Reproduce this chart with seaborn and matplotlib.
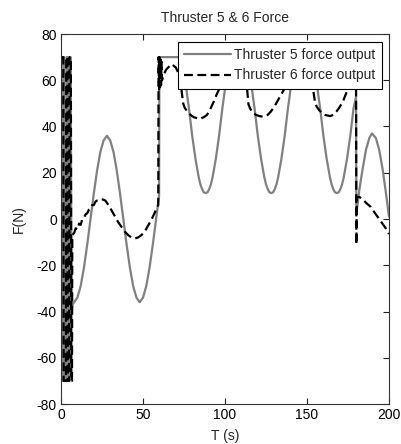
import numpy as np
import pandas as pd
import matplotlib
matplotlib.use("Agg")
import matplotlib.pyplot as plt
import seaborn as sns

# ---- data ----
t5 = [0.3, 1.2, 1.4, 2.0, 2.2, 3.3, 3.5, 4.2, 4.4, 5.3, 5.5, 5.9, 6.4, 7.0,
      8, 10, 12, 14, 16, 18, 20, 22, 24, 26, 28, 30, 32, 34, 36, 38, 40, 42, 44,
      46, 48, 50, 52, 54, 56, 58, 59.8, 60.0,
      62, 74.0, 75, 76, 77, 78, 79, 80, 81, 82, 83, 84, 85, 86, 87, 88.2,
      89.4, 90.4, 91.4, 92.4, 93.4, 94.4, 95.4, 96.4, 97.4, 98.4, 99.4, 100.4,
      101.4, 102.4,
      114.0, 115, 116, 117, 118, 119, 120, 121, 122, 123, 124, 125, 126, 127, 128.2,
      129.4, 130.4, 131.4, 132.4, 133.4, 134.4, 135.4, 136.4, 137.4, 138.4, 139.4,
      140.4, 141.4, 142.4,
      154.0, 155, 156, 157, 158, 159, 160, 161, 162, 163, 164, 165, 166, 167, 168.2,
      169.4, 170.4, 171.4, 172.4, 173.4, 174.4, 175.4, 176.4, 177.4, 178.4, 179.4,
      179.9, 180.1,
      182, 184, 186, 188, 189.6, 192, 194, 196, 198, 200]
f5 = [-70, -70, 70, 70, -70, -70, 70, 70, -70, -70, 70, 70, -40, -37,
      -36, -34, -29, -21, -11, 0, 11, 21, 29, 34, 36, 34, 29, 21, 11, 0, -11, -21, -29,
      -34, -36, -34, -29, -21, -11, 0, 10, 70,
      70, 70, 64, 59, 53, 48, 42, 36, 31, 26, 22, 18, 15, 13, 11.6, 11.2,
      11.6, 13, 15, 18, 22, 26, 31, 36, 42, 48, 53, 59, 64, 70,
      70, 64, 59, 53, 48, 42, 36, 31, 26, 22, 18, 15, 13, 11.6, 11.2,
      11.6, 13, 15, 18, 22, 26, 31, 36, 42, 48, 53, 59, 64, 70,
      70, 64, 59, 53, 48, 42, 36, 31, 26, 22, 18, 15, 13, 11.6, 11.2,
      11.6, 13, 15, 18, 22, 26, 31, 36, 42, 48, 51, 53, 2,
      13, 22, 30, 35, 37, 35, 30, 22, 12, 1]

t6 = [0.5, 1.4, 1.6, 3.0, 3.2, 3.9, 4.1, 5.0, 5.2, 6.0, 6.3, 6.7, 6.9,
      8, 9, 10, 11, 12, 13, 14, 15, 16, 17, 18, 19, 20, 21, 22, 24.8, 27, 29,
      31, 33, 35, 37, 39, 41, 43, 45, 47, 49, 51, 53, 55, 57, 58.5, 59.3,
      59.5, 59.8, 60.1, 60.4, 60.7, 61.0, 61.3, 61.6, 62.4, 64, 66, 67.5, 70, 72,
      73, 73.6, 74.5, 75.5, 77, 79, 81, 84.5, 87, 89, 91, 93, 95, 97, 99, 102,
      105, 108, 111, 112.5, 113.3, 114.3, 115.5, 117, 119, 121, 123.4, 126, 128,
      130, 132, 134, 136, 138, 141, 145, 148, 151, 152.5, 153.5, 155, 156, 157.5,
      159, 161, 164, 166, 168, 170, 172, 174, 176, 178, 179.6, 179.9, 180.1,
      180.4, 182, 184, 186, 188.6, 190, 192, 194, 196, 198, 200]
f6 = [70, 70, -70, -70, 70, 70, -70, -70, 70, 70, -70, -70, -7,
      -6, -4, -4.5, -2, -2.5, 0, 0.5, 2, 2.5, 4, 4.5, 6, 6, 7.5, 8, 8.6, 8, 6,
      3.5, 1, -1.5, -3.5, -5.5, -7, -8, -8.4, -8, -7, -5.5, -3, -0.5, 2.5, 5, 6,
      70, 56, 70, 57, 69, 58, 68, 60, 62, 64.5, 66, 67, 65.5, 62.5,
      60, 55, 50, 48, 46.5, 45, 44, 43.3, 44, 45, 47.5, 50.5, 54, 57, 60, 63,
      65.5, 66.5, 65, 62, 57.5, 49.6, 47.5, 46, 45, 44.5, 44.2, 45, 46.5,
      48.5, 51, 53.5, 56, 59, 62.5, 65.5, 66.5, 65, 62, 57, 50, 48.5, 47,
      46, 45, 44.5, 45, 46.5, 48.5, 51, 54.6, 56.5, 59, 61, 62, -11,
      9.5, 9.5, 8.5, 7, 5.4, 4, 2, 0, -2, -4, -6.5]

labels = ["Thruster 5 force output", "Thruster 6 force output"]

df5 = pd.DataFrame({"T": t5, "F": f5})
df6 = pd.DataFrame({"T": t6, "F": f6})

sns.set_style("ticks")
plt.rcParams['font.family'] = ['Liberation Sans', 'DejaVu Sans']
plt.rcParams['axes.unicode_minus'] = False

fig = plt.figure(figsize=(4.02, 4.44), dpi=100)
ax = fig.add_axes([61/402, 1-404/444, (389-61)/402, (404-34)/444])

sns.lineplot(data=df5, x="T", y="F", ax=ax, sort=False, estimator=None,
             color="#808080", lw=1.6, label=labels[0])
sns.lineplot(data=df6, x="T", y="F", ax=ax, sort=False, estimator=None,
             color="black", lw=1.6, dashes=False, label=labels[1])
ax.lines[1].set_dashes((4, 2))

ax.set_xlim(0, 200)
ax.set_ylim(-80, 80)
ax.set_xticks([0, 50, 100, 150, 200])
ax.set_yticks(range(-80, 81, 20))
ax.tick_params(direction='in', top=True, right=True, length=4, width=0.8,
               labelsize=10, colors='#222222', labelcolor='black', pad=3)
for s in ax.spines.values():
    s.set_visible(True)
    s.set_color('#333333')
    s.set_linewidth(0.8)

ax.set_title("Thruster 5 & 6 Force", fontsize=10, pad=9)
ax.set_xlabel("T (s)", fontsize=10, labelpad=5)
ax.set_ylabel("F(N)", fontsize=10, labelpad=8)

leg = ax.legend(loc='upper right', bbox_to_anchor=((382-61)/328, (404-42)/370),
                borderaxespad=0, fontsize=10, handlelength=3.4, handletextpad=0.25,
                borderpad=0.45, labelspacing=0.45, fancybox=False, framealpha=1,
                edgecolor='black')
leg.get_frame().set_linewidth(0.8)
leg.get_lines()[1].set_dashes((4, 2))

fig.savefig("out.png", dpi=100)
